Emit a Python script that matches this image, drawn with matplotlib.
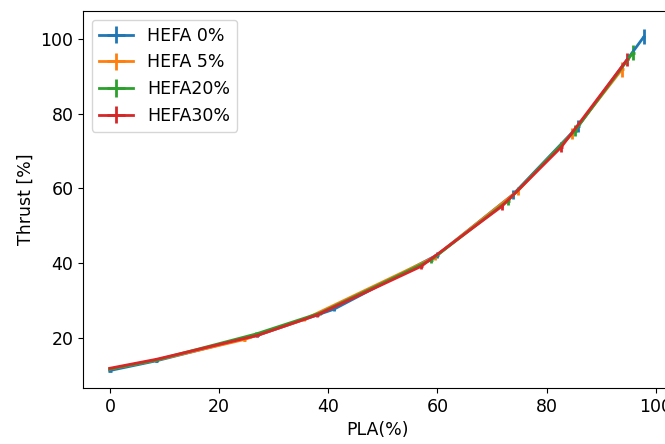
import matplotlib
matplotlib.use('Agg')
import matplotlib.pyplot as plt

labels = ['HEFA 0%', 'HEFA 5%', 'HEFA20%', 'HEFA30%']

pla_0 = [0, 8.5, 27.0, 41.0, 60.0, 73.8, 85.8, 97.8]
thr_0 = [11.2, 13.8, 20.6, 27.6, 42.2, 58.3, 76.7, 100.6]
pla_5 = [0, 8.5, 24.6, 35.6, 59.5, 74.7, 84.6, 93.8]
thr_5 = [11.6, 14.0, 19.5, 24.9, 41.6, 59.3, 74.6, 91.9]
pla_20 = [0, 8.5, 26.8, 38.5, 58.9, 72.9, 85.2, 95.8]
thr_20 = [11.6, 14.0, 21.0, 26.6, 40.9, 56.7, 75.5, 96.3]
pla_30 = [0, 8.5, 27.0, 38.0, 57.0, 71.8, 82.7, 94.8]
thr_30 = [11.8, 14.2, 20.6, 26.1, 39.1, 55.2, 71.1, 94.6]

yerr_0 = [0.2, 0.3, 0.4, 0.5, 0.8, 1.2, 1.6, 2.0]
yerr_5 = [0.2, 0.3, 0.4, 0.5, 0.8, 1.2, 1.5, 2.0]
yerr_20 = [0.2, 0.3, 0.4, 0.5, 0.8, 1.1, 1.5, 2.0]
yerr_30 = [0.2, 0.3, 0.4, 0.5, 0.8, 1.1, 1.4, 1.7]
xerr = [0.3] * 8

plt.rcParams['font.size'] = 12.5

fig = plt.figure(figsize=(6.65, 4.44), dpi=100)
ax = fig.add_axes([0.125, 0.126, 0.885, 0.849])

ax.errorbar(pla_0, thr_0, xerr=xerr, yerr=yerr_0, label=labels[0], lw=2)
ax.errorbar(pla_5, thr_5, xerr=xerr, yerr=yerr_5, label=labels[1], lw=2)
ax.errorbar(pla_20, thr_20, xerr=xerr, yerr=yerr_20, label=labels[2], lw=2)
ax.errorbar(pla_30, thr_30, xerr=xerr, yerr=yerr_30, label=labels[3], lw=2)

ax.set_xlim(-4.9, 102.9)
ax.set_ylim(6.5, 107.5)
ax.set_xlabel('PLA(%)')
ax.set_ylabel('Thrust [%]')
ax.legend(loc='upper left')

fig.savefig('out.png', dpi=100)
